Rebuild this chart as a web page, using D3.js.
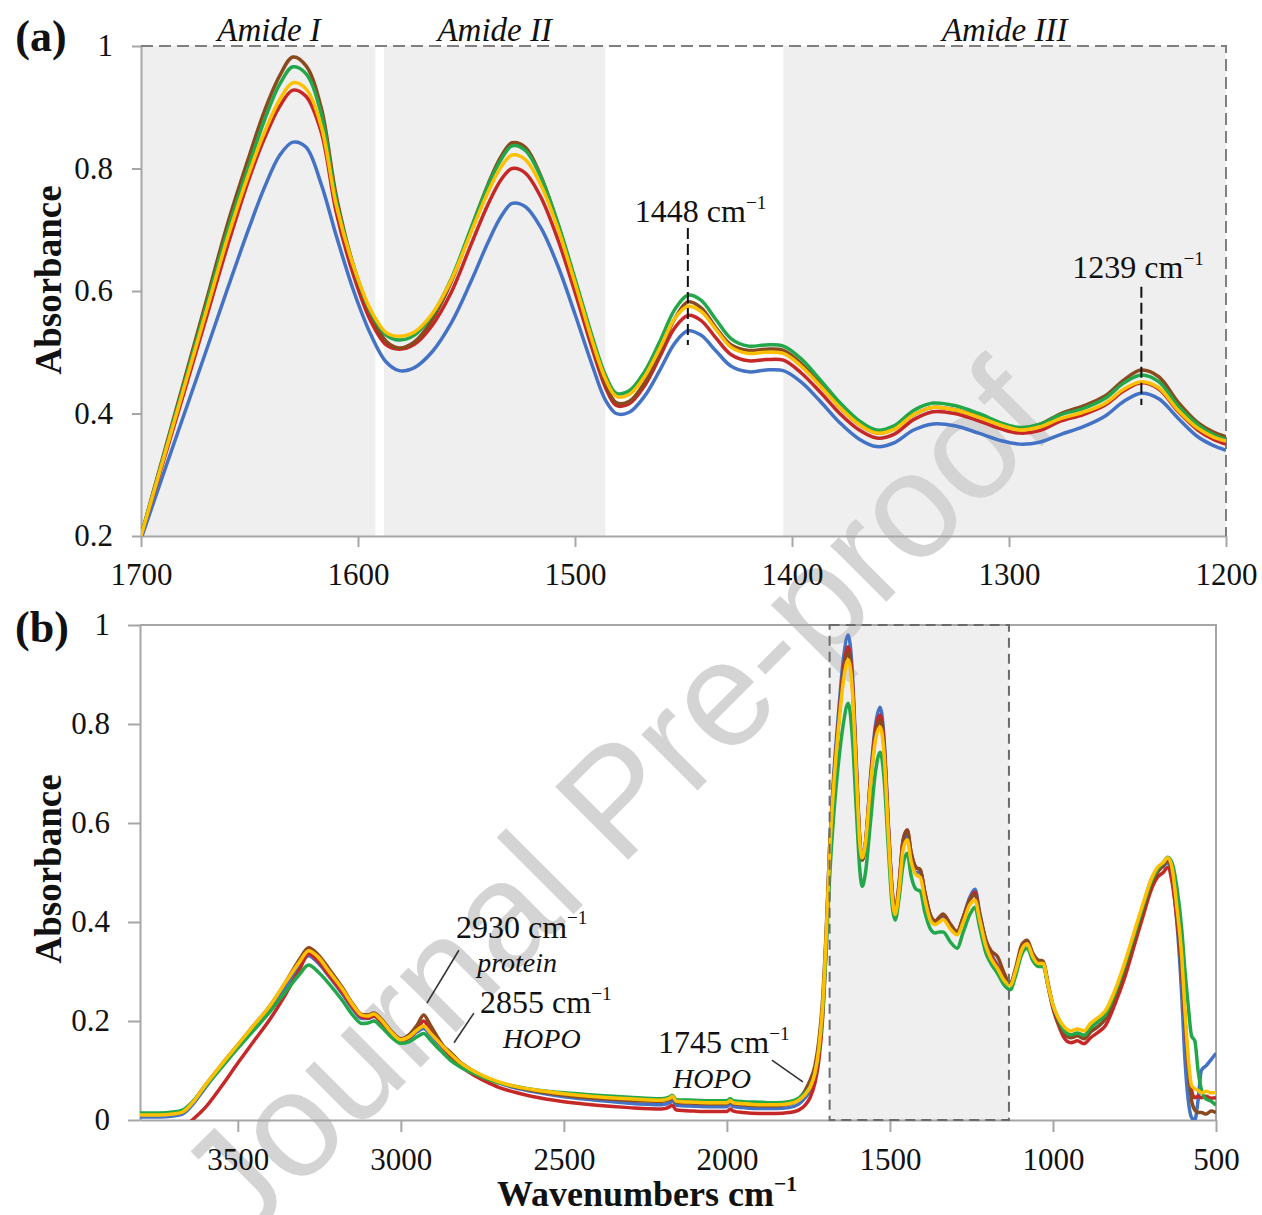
<!DOCTYPE html>
<html>
<head>
<meta charset="utf-8">
<script src="https://cdn.jsdelivr.net/npm/d3@7"></script>
<style>
body { margin: 0; background: #fff; }
svg { display: block; }
</style>
</head>
<body>
<svg id="chart" width="1262" height="1215"></svg>
<script>
// panel (a) : amide region, 1700 - 1200 cm-1
let wnA = [1700,1690,1680,1670,1660,1650,1643,1636,1630,1624,
  1617,1610,1602,1594,1587,1581,1574,1566,1557,1548,
  1540,1534,1529,1523,1516,1508,1500,1492,1486,1481,
  1475,1468,1461,1454,1448,1442,1435,1428,1420,1412,
  1404,1396,1387,1378,1369,1361,1353,1344,1335,1325,
  1314,1303,1295,1286,1276,1266,1256,1247,1239,1231,
  1222,1213,1206,1200]
let aBlue = [.195,.298,.400,.502,.605,.705,.770,.822,.843,.835,
  .775,.690,.600,.528,.484,.470,.475,.500,.548,.615,
  .680,.722,.743,.738,.705,.642,.562,.478,.422,.400,
  .402,.428,.470,.515,.535,.528,.502,.477,.468,.471,
  .470,.452,.420,.385,.358,.346,.352,.373,.383,.380,
  .368,.355,.350,.353,.366,.378,.395,.420,.433,.424,
  .392,.362,.348,.340]
let aRed = [.200,.318,.436,.555,.675,.785,.850,.902,.928,.918,
  .860,.728,.625,.550,.512,.505,.513,.543,.598,.675,
  .742,.782,.800,.793,.755,.685,.598,.505,.443,.413,
  .416,.445,.492,.540,.560,.552,.523,.496,.486,.488,
  .487,.467,.435,.400,.373,.360,.366,.390,.403,.400,
  .388,.374,.368,.372,.388,.398,.413,.437,.450,.440,
  .403,.373,.358,.350]
let aBrown = [.200,.328,.455,.583,.711,.822,.895,.952,.982,.968,
  .900,.755,.640,.562,.518,.507,.517,.552,.615,.700,
  .775,.820,.842,.835,.790,.710,.615,.515,.450,.418,
  .420,.450,.500,.555,.582,.573,.540,.512,.503,.505,
  .503,.482,.448,.410,.382,.368,.375,.398,.410,.406,
  .395,.382,.376,.382,.400,.412,.428,.455,.471,.460,
  .418,.385,.370,.362]
let aGreen = [.200,.325,.450,.575,.700,.808,.880,.938,.966,.955,
  .890,.748,.640,.565,.528,.520,.528,.560,.620,.702,
  .773,.815,.837,.830,.788,.712,.620,.525,.463,.433,
  .437,.468,.517,.570,.593,.585,.553,.522,.510,.512,
  .510,.490,.455,.418,.388,.373,.380,.405,.417,.413,
  .400,.384,.377,.382,.398,.408,.424,.450,.463,.452,
  .412,.382,.366,.358]
let aYellow = [.200,.322,.444,.566,.688,.795,.860,.913,.940,.930,
  .870,.740,.640,.568,.532,.526,.533,.562,.618,.695,
  .762,.803,.822,.815,.775,.703,.613,.518,.457,.428,
  .431,.460,.506,.555,.575,.567,.537,.508,.498,.500,
  .498,.478,.445,.410,.382,.368,.374,.398,.410,.406,
  .394,.380,.373,.378,.392,.402,.416,.440,.452,.442,
  .405,.376,.362,.355]

// panel (b) : full spectrum, 3800 - 500 cm-1
let wnB = [3800,3740,3700,3670,3640,3600,3550,3500,3450,3400,
  3350,3310,3283,3255,3220,3180,3145,3120,3100,3083,
  3060,3030,3000,2975,2950,2930,2910,2890,2870,2850,
  2820,2780,2740,2700,2650,2600,2500,2400,2300,2200,
  2175,2168,2155,2100,2050,2000,1990,1980,1950,1900,
  1850,1810,1780,1760,1745,1730,1718,1706,1695,1685,
  1672,1658,1643,1628,1615,1603,1592,1585,1575,1560,
  1545,1530,1518,1505,1493,1484,1472,1460,1447,1435,
  1420,1407,1393,1375,1361,1348,1337,1315,1294,1275,
  1255,1239,1225,1205,1190,1170,1150,1131,1115,1095,
  1079,1062,1045,1030,1015,1000,985,965,945,925,
  905,885,860,840,810,780,750,720,700,680,
  662,648,635,620,605,595,585,575,565,555,
  545,530,515,500]
let bBlue = [.006,.006,.008,.012,.030,.065,.108,.148,.188,.228,
  .272,.312,.332,.318,.290,.255,.222,.205,.205,.210,
  .198,.175,.160,.165,.178,.185,.172,.158,.145,.132,
  .115,.098,.085,.075,.065,.058,.047,.040,.034,.031,
  .035,.040,.030,.028,.027,.027,.032,.027,.025,.023,
  .023,.025,.032,.045,.060,.090,.140,.230,.380,.550,
  .700,.820,.930,.980,.900,.720,.565,.526,.560,.690,
  .795,.834,.770,.600,.462,.418,.470,.553,.575,.530,
  .500,.500,.455,.410,.400,.405,.410,.390,.378,.410,
  .450,.466,.420,.360,.336,.312,.287,.274,.300,.344,
  .356,.330,.316,.315,.272,.230,.200,.175,.167,.171,
  .165,.178,.190,.204,.250,.308,.374,.440,.484,.505,
  .512,.520,.490,.400,.250,.120,.040,.005,.000,.040,
  .100,.110,.122,.135]
let bRed = [-.03,-.03,-.025,-.015,.000,.025,.068,.115,.160,.205,
  .258,.305,.336,.322,.292,.258,.225,.208,.206,.210,
  .198,.175,.160,.166,.182,.200,.182,.162,.146,.130,
  .110,.092,.078,.066,.056,.048,.037,.030,.025,.022,
  .027,.030,.020,.018,.017,.017,.022,.018,.015,.013,
  .013,.015,.020,.030,.045,.075,.120,.210,.360,.530,
  .680,.800,.910,.956,.885,.712,.562,.525,.560,.685,
  .785,.818,.760,.595,.462,.420,.478,.565,.586,.540,
  .510,.505,.460,.412,.402,.410,.415,.395,.380,.410,
  .445,.460,.415,.356,.332,.310,.286,.274,.300,.344,
  .356,.330,.316,.315,.270,.225,.195,.165,.156,.160,
  .154,.166,.178,.190,.234,.288,.354,.420,.463,.490,
  .500,.510,.482,.405,.300,.200,.110,.060,.045,.048,
  .045,.048,.044,.045]
let bBrown = [.012,.012,.014,.018,.035,.070,.112,.152,.192,.232,
  .282,.325,.348,.335,.305,.268,.232,.213,.212,.216,
  .204,.180,.164,.172,.192,.212,.192,.170,.150,.138,
  .118,.100,.086,.076,.067,.060,.050,.044,.040,.038,
  .042,.046,.036,.034,.033,.033,.038,.033,.031,.029,
  .029,.032,.042,.060,.080,.110,.160,.250,.390,.550,
  .690,.800,.900,.945,.875,.705,.558,.525,.557,.678,
  .772,.808,.750,.590,.456,.418,.475,.562,.586,.540,
  .510,.506,.460,.412,.402,.410,.416,.396,.381,.410,
  .445,.455,.416,.362,.342,.330,.297,.276,.306,.355,
  .363,.337,.323,.321,.276,.230,.200,.175,.166,.170,
  .164,.178,.190,.204,.248,.304,.368,.432,.474,.500,
  .514,.525,.500,.420,.300,.200,.110,.040,.020,.015,
  .015,.012,.018,.015]
let bGreen = [.014,.014,.016,.020,.036,.068,.106,.145,.182,.220,
  .262,.295,.313,.300,.275,.242,.210,.195,.196,.200,
  .188,.168,.155,.158,.168,.175,.162,.148,.135,.122,
  .108,.095,.084,.075,.068,.062,.055,.050,.046,.043,
  .047,.050,.041,.040,.039,.039,.043,.039,.037,.036,
  .035,.037,.044,.055,.068,.095,.140,.220,.350,.490,
  .620,.720,.800,.842,.770,.625,.502,.472,.500,.600,
  .700,.743,.690,.550,.432,.404,.448,.515,.539,.493,
  .466,.462,.420,.385,.378,.380,.380,.360,.347,.380,
  .415,.430,.390,.336,.316,.296,.273,.263,.290,.336,
  .347,.322,.310,.310,.270,.232,.206,.180,.172,.176,
  .171,.186,.200,.212,.256,.312,.376,.440,.480,.506,
  .520,.531,.520,.470,.385,.300,.230,.170,.160,.100,
  .062,.042,.038,.030]
let bYellow = [.010,.010,.012,.016,.034,.070,.112,.152,.192,.232,
  .282,.320,.342,.330,.300,.265,.230,.212,.210,.214,
  .202,.178,.162,.168,.182,.190,.176,.162,.148,.135,
  .117,.100,.087,.077,.068,.062,.053,.047,.043,.040,
  .044,.048,.038,.036,.035,.035,.039,.035,.033,.031,
  .031,.033,.040,.052,.066,.095,.145,.235,.380,.540,
  .680,.790,.885,.930,.865,.700,.557,.530,.560,.675,
  .765,.794,.740,.580,.452,.415,.465,.545,.566,.522,
  .495,.490,.446,.402,.395,.400,.405,.386,.374,.400,
  .435,.444,.405,.350,.326,.306,.282,.272,.300,.345,
  .356,.330,.316,.316,.272,.233,.208,.188,.180,.184,
  .180,.195,.208,.220,.262,.318,.382,.445,.484,.510,
  .520,.530,.510,.430,.330,.220,.125,.070,.063,.060,
  .055,.058,.055,.055]

let colors = ['#4472c4', '#c62828', '#8b4a1e', '#22a84a', '#ffc000']
let seriesA = [aBlue, aRed, aBrown, aGreen, aYellow]
let seriesB = [bBlue, bRed, bBrown, bGreen, bYellow]

let ticksAx = [1700, 1600, 1500, 1400, 1300, 1200]
let ticksAy = [0.2, 0.4, 0.6, 0.8, 1]
let ticksBx = [3500, 3000, 2500, 2000, 1500, 1000, 500]
let ticksBy = [0, 0.2, 0.4, 0.6, 0.8, 1]

// shaded bands of panel (a), in cm-1
let bandNames = ['Amide I', 'Amide II', 'Amide III']
let bandFrom = [1700, 1588, 1404]
let bandTo = [1592, 1486, 1200]
let bandLabelAt = [1641, 1537, 1302]
// zoomed window shown in panel (b)
let boxB = [1685, 1135]

let serif = '"Liberation Serif", "Times New Roman", serif'
let svg = d3.select('#chart')
let bgLayer = svg.append('g')
let markLayer = svg.append('g')
let plotLayer = svg.append('g')

let xa = d3.scaleLinear().domain([1700, 1200]).range([141, 1226])
let ya = d3.scaleLinear().domain([0.2, 1]).range([536, 46])
let xb = d3.scaleLinear().domain([3800, 500]).range([140, 1216])
let yb = d3.scaleLinear().domain([0, 1]).range([1120, 625])

let fmt = d => d === 0 ? '0' : (d === 1 ? '1' : d.toFixed(1))

// adds "<num> cm-1" with a raised -1
let cmText = (g, x, y, prefix, size, weight) => {
  let t = g.append('text').attr('x', x).attr('y', y)
    .attr('font-family', serif).attr('font-size', size)
    .attr('font-weight', weight || 'normal').attr('fill', '#111')
  t.append('tspan').text(prefix + 'cm')
  t.append('tspan').attr('font-size', size * 0.6).attr('dy', -size * 0.42).text('\u22121')
  return t
}

let styleAxis = (g) => {
  g.attr('font-family', serif).attr('font-size', 31)
  g.select('.domain').attr('stroke', '#a6a6a6').attr('stroke-width', 2)
  g.selectAll('.tick line').attr('stroke', '#a6a6a6').attr('stroke-width', 2)
  g.selectAll('.tick text').attr('fill', '#111')
}

// ---------- panel (a)
bgLayer.selectAll('rect.band')
  .data(bandNames)
  .enter()
  .append('rect')
  .attr('class', 'band')
  .attr('x', (d, i) => xa(bandFrom[i]))
  .attr('width', (d, i) => xa(bandTo[i]) - xa(bandFrom[i]))
  .attr('y', ya(1))
  .attr('height', ya(0.2) - ya(1))
  .attr('fill', '#efefef')

plotLayer.selectAll('text.band')
  .data(bandNames)
  .enter()
  .append('text')
  .attr('x', (d, i) => xa(bandLabelAt[i]))
  .attr('y', 41)
  .attr('text-anchor', 'middle')
  .attr('font-family', serif)
  .attr('font-style', 'italic')
  .attr('font-size', 33)
  .attr('fill', '#111')
  .text(d => d)

plotLayer.append('g')
  .attr('transform', 'translate(0,' + ya(0.2) + ')')
  .call(d3.axisBottom(xa).tickValues(ticksAx).tickSize(11).tickPadding(16).tickSizeOuter(0).tickFormat(d3.format('d')))
  .call(styleAxis)

plotLayer.append('g')
  .attr('transform', 'translate(' + xa(1700) + ',0)')
  .call(d3.axisLeft(ya).tickValues(ticksAy).tickSize(9).tickPadding(19).tickSizeOuter(0).tickFormat(fmt))
  .call(styleAxis)

// dashed top and right border
plotLayer.append('path')
  .attr('d', 'M' + xa(1700) + ',' + ya(1) + 'H' + xa(1200) + 'V' + ya(0.2))
  .attr('fill', 'none')
  .attr('stroke', '#7f7f7f')
  .attr('stroke-width', 2)
  .attr('stroke-dasharray', '12,6')

svg.append('clipPath').attr('id', 'clipA')
  .append('rect').attr('x', xa(1700)).attr('y', ya(1) - 4)
  .attr('width', xa(1200) - xa(1700)).attr('height', ya(0.2) - ya(1) + 4)

let lineA = d3.line()
  .x((d, i) => xa(wnA[i]))
  .y(d => ya(d))
  .curve(d3.curveCatmullRom)

plotLayer.append('g').attr('clip-path', 'url(#clipA)')
  .selectAll('path')
  .data(seriesA)
  .enter()
  .append('path')
  .attr('d', lineA)
  .attr('fill', 'none')
  .attr('stroke', (d, i) => colors[i])
  .attr('stroke-width', 3.5)
  .attr('stroke-linejoin', 'round')

// peak markers 1448 / 1239
let peaksA = [1448, 1239]
let peakTop = [0.703, 0.607]
let peakBottom = [0.512, 0.414]
plotLayer.selectAll('line.peak')
  .data(peaksA)
  .enter()
  .append('line')
  .attr('x1', d => xa(d)).attr('x2', d => xa(d))
  .attr('y1', (d, i) => ya(peakTop[i]))
  .attr('y2', (d, i) => ya(peakBottom[i]))
  .attr('stroke', '#111')
  .attr('stroke-width', 2)
  .attr('stroke-dasharray', '11,5')
cmText(plotLayer, xa(1448) - 53, 222, '1448 ', 32)
cmText(plotLayer, xa(1239) - 69, 278, '1239 ', 32)

// ---------- panel (b)
bgLayer.append('rect')
  .attr('x', xb(boxB[0]))
  .attr('width', xb(boxB[1]) - xb(boxB[0]))
  .attr('y', yb(1))
  .attr('height', yb(0) - yb(1))
  .attr('fill', '#efefef')

plotLayer.append('g')
  .attr('transform', 'translate(0,' + yb(0) + ')')
  .call(d3.axisBottom(xb).tickValues(ticksBx).tickSize(12).tickPadding(16).tickSizeOuter(0).tickFormat(d3.format('d')))
  .call(styleAxis)

plotLayer.append('g')
  .attr('transform', 'translate(' + xb(3800) + ',0)')
  .call(d3.axisLeft(yb).tickValues(ticksBy).tickSize(12).tickPadding(18).tickSizeOuter(0).tickFormat(fmt))
  .call(styleAxis)

plotLayer.append('path')
  .attr('d', 'M' + xb(3800) + ',' + yb(1) + 'H' + xb(500) + 'V' + yb(0))
  .attr('fill', 'none')
  .attr('stroke', '#a6a6a6')
  .attr('stroke-width', 2)

svg.append('clipPath').attr('id', 'clipB')
  .append('rect').attr('x', xb(3800)).attr('y', yb(1))
  .attr('width', xb(500) - xb(3800)).attr('height', yb(0) - yb(1))

let lineB = d3.line()
  .x((d, i) => xb(wnB[i]))
  .y(d => yb(d))
  .curve(d3.curveMonotoneX)

plotLayer.append('g').attr('clip-path', 'url(#clipB)')
  .selectAll('path')
  .data(seriesB)
  .enter()
  .append('path')
  .attr('d', lineB)
  .attr('fill', 'none')
  .attr('stroke', (d, i) => colors[i])
  .attr('stroke-width', 3.5)
  .attr('stroke-linejoin', 'round')

plotLayer.append('rect')
  .attr('x', xb(boxB[0]))
  .attr('width', xb(boxB[1]) - xb(boxB[0]))
  .attr('y', yb(1))
  .attr('height', yb(0) - yb(1))
  .attr('fill', 'none')
  .attr('stroke', '#6b6b6b')
  .attr('stroke-width', 2)
  .attr('stroke-dasharray', '10,6')

// band annotations with leader lines (cm-1, absorbance)
let leaderFrom = [[2920, 0.236], [2837, 0.156], [1862, 0.121]]
let leaderTo = [[2822, 0.343], [2776, 0.216], [1767, 0.077]]
plotLayer.selectAll('line.leader')
  .data(leaderFrom)
  .enter()
  .append('line')
  .attr('x1', d => xb(d[0])).attr('y1', d => yb(d[1]))
  .attr('x2', (d, i) => xb(leaderTo[i][0])).attr('y2', (d, i) => yb(leaderTo[i][1]))
  .attr('stroke', '#333')
  .attr('stroke-width', 1.6)

cmText(plotLayer, xb(2831), yb(0.368), '2930 ', 32)
cmText(plotLayer, xb(2757), yb(0.216), '2855 ', 32)
cmText(plotLayer, xb(2211), yb(0.135), '1745 ', 32)
let notes = ['protein', 'HOPO', 'HOPO']
let noteWn = [2766, 2687, 2165]
let noteAbs = [0.299, 0.145, 0.065]
plotLayer.selectAll('text.note')
  .data(notes)
  .enter()
  .append('text')
  .attr('x', (d, i) => xb(noteWn[i]))
  .attr('y', (d, i) => yb(noteAbs[i]))
  .attr('font-family', serif)
  .attr('font-style', 'italic')
  .attr('font-size', 28)
  .attr('fill', '#111')
  .text(d => d)

// ---------- titles
let bold = (x, y, txt, size, rot) => plotLayer.append('text')
  .attr('transform', 'translate(' + x + ',' + y + ')' + (rot ? ' rotate(' + rot + ')' : ''))
  .attr('text-anchor', 'middle')
  .attr('font-family', serif)
  .attr('font-weight', 'bold')
  .attr('font-size', size)
  .attr('fill', '#111')
  .text(txt)

bold(41, 51, '(a)', 44)
bold(42, 642, '(b)', 44)
bold(61, 280, 'Absorbance', 37, -90)
bold(61, 869, 'Absorbance', 37, -90)
cmText(plotLayer, 497, 1206, 'Wavenumbers ', 36, 'bold')

// watermark
markLayer.append('text')
  .attr('transform', 'translate(652,836) rotate(-45)')
  .attr('text-anchor', 'middle')
  .attr('font-family', '"Liberation Sans", Arial, sans-serif')
  .attr('font-size', 150)
  .attr('fill', '#d4d4d4')
  .text('Journal Pre-proof')
</script>
</body>
</html>
